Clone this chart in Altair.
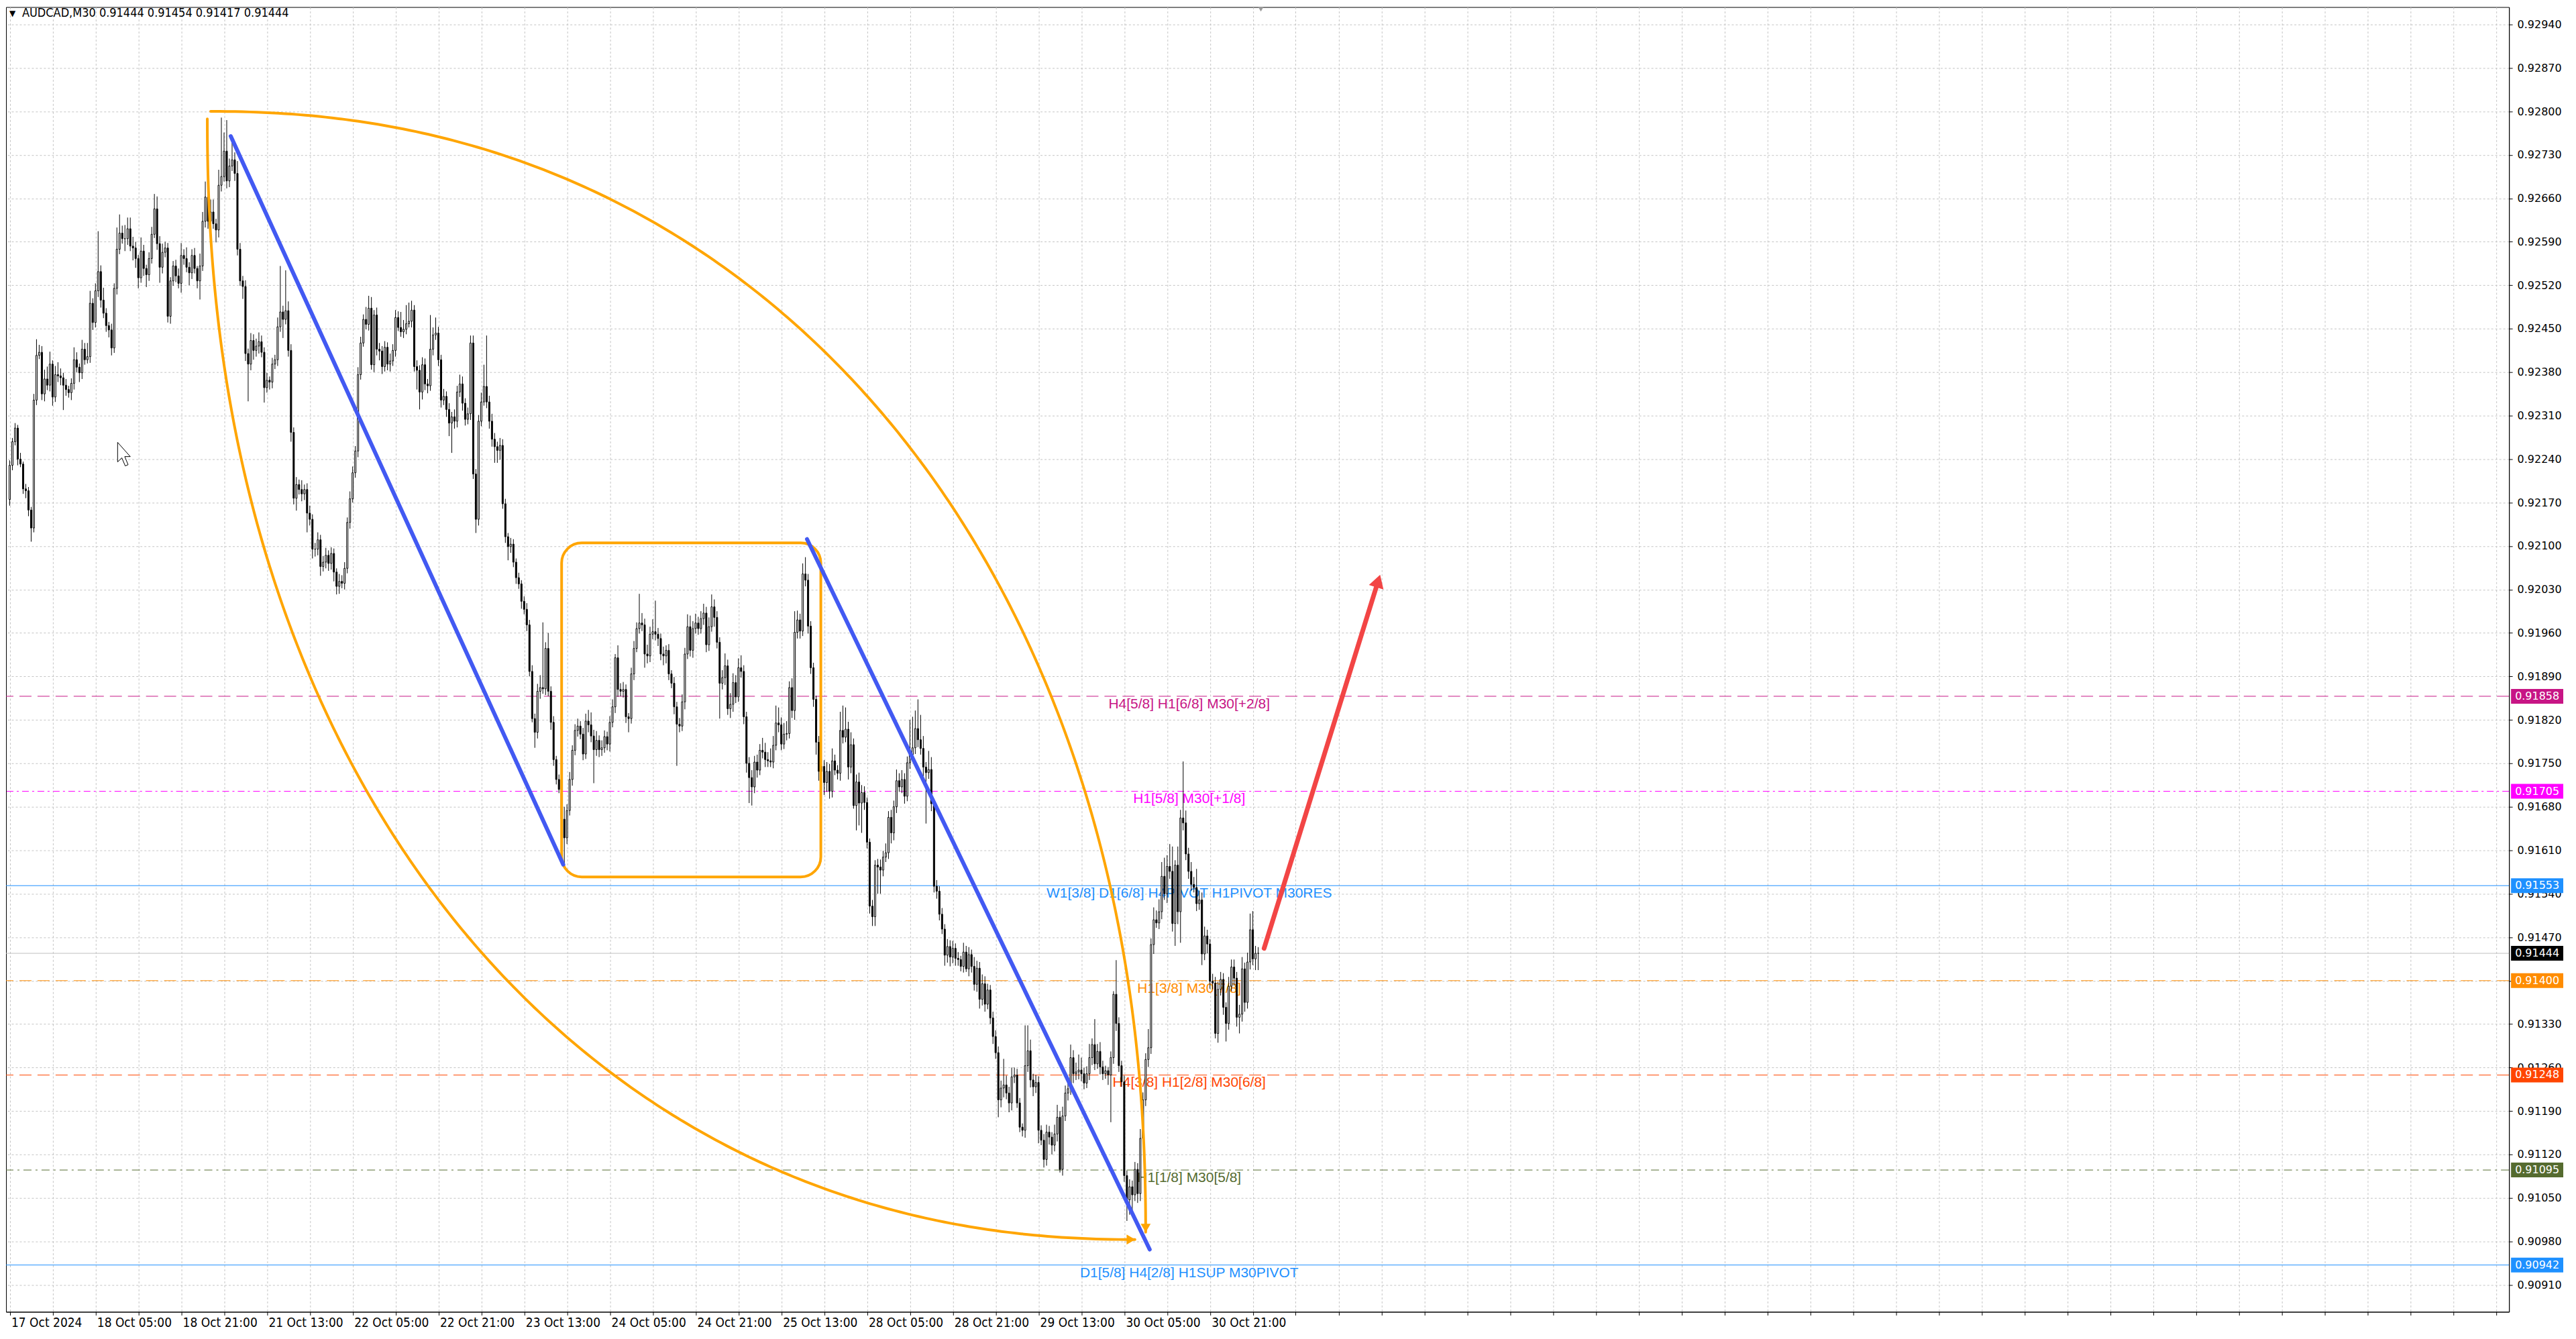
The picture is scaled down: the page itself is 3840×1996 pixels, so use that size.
import json
import numpy as np
import pandas as pd
import altair as alt

# ---------------- data ----------------
SYMBOL = "AUDCAD"
TIMEFRAME = "M30"
BASE = 0.90000          # prices below are in points (0.00001) above BASE
POINT = 0.00001
FIRST_OPEN = 2175

close_pts = [
    2230, 2268, 2290, 2240, 2232, 2192, 2189, 2158, 2129, 2335, 2407, 2412, 2345, 2369, 2359, 2393, 2340, 2376, 2374, 2371,
    2359, 2352, 2347, 2362, 2400, 2388, 2379, 2417, 2400, 2405, 2491, 2460, 2511, 2542, 2496, 2475, 2455, 2448, 2419, 2515,
    2578, 2604, 2595, 2595, 2611, 2583, 2580, 2563, 2532, 2575, 2547, 2537, 2563, 2602, 2643, 2587, 2549, 2573, 2580, 2470,
    2527, 2551, 2535, 2523, 2568, 2563, 2549, 2540, 2568, 2547, 2527, 2551, 2623, 2662, 2623, 2638, 2619, 2609, 2681, 2695,
    2736, 2688, 2712, 2722, 2700, 2578, 2527, 2518, 2410, 2393, 2431, 2415, 2422, 2429, 2412, 2355, 2367, 2364, 2393, 2400,
    2453, 2477, 2465, 2479, 2415, 2283, 2177, 2199, 2191, 2184, 2191, 2153, 2143, 2095, 2095, 2110, 2067, 2074, 2085, 2072,
    2088, 2058, 2035, 2043, 2040, 2064, 2138, 2176, 2218, 2253, 2376, 2427, 2465, 2457, 2483, 2392, 2472, 2417, 2414, 2389,
    2420, 2393, 2398, 2415, 2468, 2452, 2445, 2449, 2458, 2462, 2480, 2389, 2383, 2348, 2392, 2361, 2358, 2417, 2440, 2443,
    2400, 2335, 2341, 2320, 2298, 2308, 2301, 2348, 2361, 2330, 2304, 2313, 2427, 2216, 2143, 2301, 2332, 2357, 2332, 2301,
    2272, 2260, 2254, 2262, 2168, 2115, 2099, 2103, 2074, 2049, 2039, 2011, 1998, 1973, 1898, 1822, 1800, 1866, 1872, 1870,
    1935, 1866, 1816, 1756, 1724, 1708, 1660, 1630, 1674, 1724, 1771, 1803, 1810, 1797, 1765, 1818, 1812, 1794, 1772, 1787,
    1772, 1775, 1793, 1781, 1816, 1841, 1920, 1869, 1866, 1869, 1825, 1822, 1894, 1935, 1967, 1976, 1973, 1926, 1923, 1958,
    1962, 1958, 1951, 1926, 1923, 1932, 1894, 1879, 1841, 1813, 1810, 1849, 1926, 1970, 1932, 1967, 1976, 1967, 1983, 1992,
    1941, 1970, 2002, 1985, 1945, 1879, 1888, 1907, 1838, 1845, 1880, 1857, 1904, 1898, 1825, 1750, 1727, 1712, 1752, 1739,
    1771, 1768, 1756, 1754, 1752, 1779, 1815, 1812, 1781, 1797, 1798, 1872, 1835, 1961, 1981, 1963, 2055, 2045, 1971, 1904,
    1853, 1784, 1737, 1745, 1719, 1737, 1705, 1754, 1739, 1734, 1803, 1792, 1805, 1744, 1780, 1682, 1720, 1686, 1703, 1687,
    1623, 1520, 1503, 1586, 1583, 1578, 1599, 1606, 1663, 1638, 1680, 1722, 1712, 1724, 1697, 1751, 1764, 1775, 1806, 1788,
    1774, 1744, 1735, 1740, 1685, 1552, 1544, 1507, 1483, 1441, 1455, 1438, 1452, 1436, 1434, 1423, 1446, 1419, 1442, 1423,
    1394, 1420, 1370, 1395, 1362, 1385, 1340, 1310, 1284, 1208, 1227, 1232, 1219, 1203, 1245, 1248, 1203, 1164, 1159, 1263,
    1287, 1240, 1229, 1236, 1159, 1143, 1112, 1156, 1148, 1135, 1153, 1180, 1096, 1182, 1219, 1226, 1276, 1250, 1253, 1256,
    1250, 1235, 1250, 1276, 1297, 1266, 1286, 1261, 1250, 1255, 1248, 1276, 1378, 1331, 1263, 1237, 1086, 1047, 1068, 1055,
    1096, 1057, 1146, 1208, 1273, 1292, 1458, 1498, 1493, 1511, 1568, 1540, 1584, 1576, 1492, 1586, 1511, 1662, 1654, 1604,
    1576, 1555, 1550, 1524, 1530, 1443, 1472, 1459, 1399, 1396, 1315, 1386, 1402, 1357, 1331, 1391, 1422, 1404, 1341, 1346,
    1419, 1365, 1430, 1482, 1435, 1444, 1444,
]

upper_wick = [
    8, 6, 8, 5, 10, 4, 8, 6, 5, 10, 26, 12, 10, 15, 20, 20, 6, 14, 20, 12,
    8, 10, 6, 8, 20, 12, 6, 15, 10, 22, 20, 8, 12, 65, 10, 20, 8, 6, 10, 8,
    35, 30, 12, 22, 18, 18, 15, 10, 6, 22, 10, 6, 10, 12, 24, 20, 12, 14, 10, 8,
    6, 8, 10, 12, 20, 10, 18, 8, 10, 12, 4, 20, 15, 25, 12, 20, 20, 8, 25, 95,
    30, 50, 12, 28, 12, 20, 10, 8, 10, 8, 12, 10, 12, 15, 10, 8, 12, 6, 10, 8,
    15, 74, 10, 65, 15, 10, 8, 12, 8, 15, 8, 10, 12, 8, 10, 12, 8, 10, 12, 8,
    10, 8, 6, 12, 10, 10, 8, 12, 10, 8, 12, 10, 8, 20, 20, 18, 8, 12, 10, 8,
    10, 8, 12, 10, 12, 10, 25, 15, 30, 30, 15, 8, 10, 8, 12, 10, 8, 55, 12, 25,
    10, 8, 12, 8, 10, 8, 12, 10, 15, 12, 8, 10, 12, 12, 8, 10, 15, 35, 82, 10,
    12, 10, 8, 12, 10, 8, 6, 10, 8, 6, 8, 6, 8, 10, 8, 10, 8, 12, 20, 105,
    10, 25, 8, 10, 6, 8, 10, 20, 10, 12, 8, 10, 12, 8, 10, 12, 18, 20, 10, 15,
    8, 12, 10, 8, 10, 12, 6, 20, 10, 12, 8, 6, 10, 12, 10, 47, 16, 10, 15, 12,
    20, 50, 10, 8, 12, 8, 10, 6, 10, 8, 10, 12, 10, 20, 18, 12, 15, 10, 12, 15,
    10, 15, 20, 12, 10, 8, 12, 20, 10, 18, 15, 12, 15, 20, 10, 8, 10, 12, 10, 12,
    10, 20, 15, 12, 20, 15, 28, 25, 12, 18, 20, 10, 15, 34, 15, 10, 17, 27, 10, 8,
    8, 6, 10, 12, 10, 15, 12, 20, 10, 8, 30, 40, 35, 12, 20, 10, 12, 15, 12, 10,
    8, 6, 10, 8, 10, 12, 10, 15, 10, 12, 10, 18, 12, 15, 10, 10, 56, 50, 29, 47,
    40, 20, 8, 30, 20, 8, 10, 8, 10, 8, 12, 10, 12, 8, 10, 6, 15, 10, 12, 8,
    15, 12, 10, 15, 12, 10, 8, 10, 10, 10, 12, 42, 15, 10, 15, 12, 10, 8, 6, 65,
    41, 18, 10, 12, 10, 8, 10, 12, 10, 8, 15, 20, 10, 15, 12, 10, 21, 12, 15, 25,
    20, 10, 12, 22, 10, 41, 12, 15, 10, 8, 6, 10, 5, 55, 10, 8, 10, 8, 12, 10,
    12, 10, 15, 12, 10, 30, 10, 20, 15, 20, 23, 30, 18, 36, 40, 8, 30, 13, 91, 20,
    10, 15, 12, 30, 15, 12, 15, 10, 8, 12, 10, 12, 12, 10, 8, 15, 12, 12, 10, 15,
    19, 10, 15, 26, 30, 12, 10,
]

lower_wick = [
    10, 8, 6, 10, 5, 8, 12, 10, 22, 7, 8, 6, 10, 12, 8, 10, 14, 8, 10, 12,
    40, 10, 8, 12, 10, 8, 15, 10, 8, 6, 10, 12, 8, 10, 12, 8, 10, 12, 12, 8,
    10, 8, 8, 20, 10, 8, 20, 15, 17, 8, 12, 20, 10, 8, 6, 10, 25, 10, 8, 10,
    12, 8, 10, 8, 15, 10, 8, 20, 10, 8, 12, 30, 8, 10, 12, 10, 8, 20, 12, 10,
    8, 12, 10, 8, 12, 10, 8, 20, 12, 60, 10, 15, 10, 12, 8, 24, 8, 12, 10, 8,
    10, 8, 30, 8, 10, 15, 10, 20, 8, 12, 10, 31, 10, 15, 12, 10, 15, 8, 10, 12,
    10, 15, 13, 12, 8, 10, 8, 10, 6, 8, 10, 8, 6, 8, 10, 8, 12, 10, 15, 12,
    8, 10, 12, 8, 10, 6, 8, 10, 8, 6, 10, 8, 31, 28, 12, 10, 12, 8, 10, 8,
    10, 12, 8, 12, 21, 48, 12, 10, 8, 12, 10, 8, 10, 8, 22, 10, 8, 6, 10, 12,
    12, 26, 20, 15, 8, 10, 22, 10, 8, 10, 8, 12, 8, 10, 8, 6, 25, 10, 12, 8,
    10, 8, 12, 10, 8, 6, 12, 44, 10, 8, 10, 8, 10, 8, 10, 8, 12, 10, 54, 10,
    12, 10, 8, 10, 12, 8, 10, 12, 8, 10, 10, 22, 8, 10, 6, 8, 10, 22, 12, 10,
    8, 10, 12, 10, 15, 12, 10, 8, 12, 67, 10, 8, 12, 8, 10, 12, 8, 10, 8, 10,
    12, 10, 8, 15, 10, 57, 10, 12, 10, 15, 12, 10, 8, 10, 12, 15, 41, 30, 10, 12,
    8, 10, 12, 10, 8, 10, 8, 12, 10, 8, 10, 8, 12, 15, 10, 12, 8, 10, 12, 10,
    12, 20, 15, 30, 20, 15, 12, 10, 8, 10, 12, 10, 8, 20, 10, 5, 40, 36, 48, 12,
    10, 12, 15, 15, 43, 38, 10, 8, 10, 17, 12, 10, 8, 10, 12, 8, 10, 8, 10, 12,
    10, 15, 82, 10, 12, 10, 12, 10, 8, 17, 12, 15, 10, 12, 10, 8, 10, 5, 12, 10,
    10, 12, 15, 10, 12, 8, 10, 12, 10, 28, 12, 15, 10, 15, 12, 10, 8, 8, 10, 12,
    10, 12, 15, 10, 21, 8, 13, 10, 12, 15, 10, 12, 5, 10, 8, 12, 10, 15, 10, 12,
    12, 10, 8, 10, 12, 10, 8, 12, 10, 8, 16, 76, 10, 12, 10, 8, 10, 34, 24, 32,
    10, 15, 12, 8, 10, 12, 10, 15, 8, 10, 12, 10, 15, 12, 13, 36, 20, 50, 12, 10,
    12, 10, 8, 12, 10, 18, 10, 15, 12, 10, 8, 15, 10, 12, 29, 10, 8, 12, 15, 26,
    12, 15, 10, 12, 10, 18, 27,
]

date_labels = ["17 Oct 2024", "18 Oct 05:00", "18 Oct 21:00", "21 Oct 13:00", "22 Oct 05:00",
               "22 Oct 21:00", "23 Oct 13:00", "24 Oct 05:00", "24 Oct 21:00", "25 Oct 13:00",
               "28 Oct 05:00", "28 Oct 21:00", "29 Oct 13:00", "30 Oct 05:00", "30 Oct 21:00"]
LABEL_STEP = 32
GRID_STEP = 16

price_ticks = [0.90910, 0.90980, 0.91050, 0.91120, 0.91190, 0.91260, 0.91330, 0.91400, 0.91470, 0.91540,
               0.91610, 0.91680, 0.91750, 0.91820, 0.91890, 0.91960, 0.92030, 0.92100, 0.92170, 0.92240,
               0.92310, 0.92380, 0.92450, 0.92520, 0.92590, 0.92660, 0.92730, 0.92800, 0.92870, 0.92940]

level_prices = [0.91858, 0.91705, 0.91553, 0.91400, 0.91248, 0.91095, 0.90942]
level_texts = ["H4[5/8] H1[6/8] M30[+2/8]", "H1[5/8] M30[+1/8]",
               "W1[3/8] D1[6/8] H4PIVOT H1PIVOT M30RES", "H1[3/8] M30[7/8]",
               "H4[3/8] H1[2/8] M30[6/8]", "H1[1/8] M30[5/8]", "D1[5/8] H4[2/8] H1SUP M30PIVOT"]
level_colors = ["#C71585", "#FF00FF", "#1E90FF", "#FF8C00", "#FF4500", "#556B2F", "#1E90FF"]
level_dashes = [[18, 9], [10, 5, 3, 5], None, [18, 9], [18, 9], [12, 6, 3, 6], None]
LEVEL_LABEL_BAR = 440.25

# drawing anchors: (bar index, price)
blue_lines = [((82.5, 0.92760), (206.6, 0.91587)), ((297.6, 0.92111), (425.5, 0.90967))]
box_bars = (206.0, 302.75)
box_prices = (0.91567, 0.92105)
outer_arc = ((75.0, 0.92800), (424.0, 0.90995))
inner_arc = ((73.75, 0.92788), (420.0, 0.90983))
red_arrow = ((468.2, 0.91452), (511.6, 0.92055))
cursor_at = (42.75, 0.922475)
shift_marker_bar = 467

# ---------------- geometry ----------------
W, H = 3737, 1948
PX_PER_BAR = 4.0
X_DOM = [-1.375, -1.375 + W / PX_PER_BAR]
Y_TOP = 0.92968
PX_PER_PRICE = 92700.0
Y_BOT = Y_TOP - H / PX_PER_PRICE
xs = alt.Scale(domain=X_DOM, nice=False, zero=False)
ys = alt.Scale(domain=[Y_BOT, Y_TOP], nice=False, zero=False)

NARROW = "Liberation Sans Narrow, DejaVu Sans Condensed, Arial Narrow, Liberation Sans"
PRICE_FONT = "DejaVu Sans, Verdana"
LABEL_FONT = "Liberation Sans, Arial"

# ---------------- candles ----------------
n = min(len(close_pts), len(upper_wick), len(lower_wick))
opens = [FIRST_OPEN] + close_pts[:n - 1]
rows = []
for i in range(n):
    o, c = opens[i], close_pts[i]
    top, bot = max(o, c), min(o, c)
    rows.append(dict(bar=i, open=BASE + o * POINT, close=BASE + c * POINT,
                     high=BASE + (top + upper_wick[i]) * POINT,
                     low=BASE + (bot - lower_wick[i]) * POINT, up=bool(c >= o)))
df = pd.DataFrame(rows)
last = df.iloc[-1]

label_expr = ("(datum.value % " + str(LABEL_STEP) + " == 0 && datum.value / " + str(LABEL_STEP) + " < "
              + str(len(date_labels)) + ") ? " + json.dumps(date_labels) + "[datum.value / " + str(LABEL_STEP) + "] : ''")
grid_bars = list(range(0, int(X_DOM[1]) + 1, GRID_STEP))

x_axis = alt.Axis(values=grid_bars, labelExpr=label_expr, grid=True, gridDash=[3, 3],
                  gridColor="#c4c4c4", gridWidth=1, tickColor="black",
                  domainColor="black", labelAlign="left", labelBaseline="top", labelFont=NARROW,
                  labelFontSize=19, labelColor="black", labelPadding=2, labelOffset=2, tickSize=5,
                  labelOverlap=False, labelFlush=False, title=None, zindex=0)
y_axis = alt.Axis(orient="right", values=price_ticks, format=".5f", grid=True, gridDash=[3, 3],
                  gridColor="#c4c4c4", gridWidth=1, domainColor="black", tickColor="black", tickSize=5,
                  labelFont=PRICE_FONT, labelFontSize=16, labelColor="black", labelPadding=7,
                  labelOverlap=False, labelFlush=False, title=None, zindex=0)

XE = lambda f: alt.X(f, scale=xs, axis=x_axis)
YE = lambda f: alt.Y(f, scale=ys, axis=y_axis)

layers = []

# level lines
for p, col, dash in zip(level_prices, level_colors, level_dashes):
    kw = dict(color=col, strokeWidth=1)
    if dash:
        kw["strokeDash"] = dash
    layers.append(alt.Chart(pd.DataFrame({"p": [p]})).mark_rule(**kw).encode(y=YE("p:Q")))
# current price line
layers.append(alt.Chart(pd.DataFrame({"p": [last["close"]]})).mark_rule(color="#C0C0C0", strokeWidth=1).encode(
    y=YE("p:Q")))

# level texts
lev_df = pd.DataFrame({"p": level_prices, "t": level_texts, "c": level_colors, "b": [LEVEL_LABEL_BAR] * len(level_prices)})
layers.append(alt.Chart(lev_df).mark_text(font=LABEL_FONT, fontSize=21, align="center", baseline="middle", dy=12).encode(
    x=XE("b:Q"), y=YE("p:Q"), text="t:N", color=alt.Color("c:N", scale=None)))

# candles
layers.append(alt.Chart(df).mark_rule(color="black", strokeWidth=1).encode(
    x=XE("bar:Q"), y=YE("low:Q"), y2="high:Q"))
layers.append(alt.Chart(df).transform_calculate(b0="datum.bar - 0.25", b1="datum.bar + 0.25").mark_rect(
    stroke="black", strokeWidth=1).encode(
    x=XE("b0:Q"), x2="b1:Q", y=YE("open:Q"), y2="close:Q",
    fill=alt.condition("datum.up", alt.value("white"), alt.value("black"))))

# ---------------- drawings ----------------
ORANGE = "#FFA500"
NEXP = 2.15
t = np.linspace(0, np.pi / 2, 240)
(sx, sp), (ex, ep) = outer_arc
outer_df = pd.DataFrame({"x": sx + (ex - sx) * np.sin(t) ** (2 / NEXP),
                         "p": ep + (sp - ep) * np.cos(t) ** (2 / NEXP), "o": np.arange(len(t))})
(ix, ip), (jx, jp) = inner_arc
inner_df = pd.DataFrame({"x": jx - (jx - ix) * np.cos(t) ** (2 / NEXP),
                         "p": ip - (ip - jp) * np.sin(t) ** (2 / NEXP), "o": np.arange(len(t))})
for adf in (outer_df, inner_df):
    layers.append(alt.Chart(adf).mark_line(color=ORANGE, strokeWidth=4, strokeCap="round").encode(
        x=XE("x:Q"), y=YE("p:Q"), order="o:Q"))
heads = pd.DataFrame({"x": [ex, jx - 6 / PX_PER_BAR], "p": [ep + 6 / PX_PER_PRICE, jp],
                      "s": ["triangle-down", "triangle-right"]})
layers.append(alt.Chart(heads).mark_point(filled=True, color=ORANGE, size=220, opacity=1).encode(
    x=XE("x:Q"), y=YE("p:Q"), shape=alt.Shape("s:N", scale=None)))

box_df = pd.DataFrame({"b0": [box_bars[0]], "b1": [box_bars[1]], "p0": [box_prices[0]], "p1": [box_prices[1]]})
layers.append(alt.Chart(box_df).mark_rect(fillOpacity=0, stroke=ORANGE, strokeWidth=4, cornerRadius=30).encode(
    x=XE("b0:Q"), x2="b1:Q", y=YE("p0:Q"), y2="p1:Q"))

bl_rows = []
for k, (a, b) in enumerate(blue_lines):
    bl_rows += [dict(seg=k, o=0, x=a[0], p=a[1]), dict(seg=k, o=1, x=b[0], p=b[1])]
layers.append(alt.Chart(pd.DataFrame(bl_rows)).mark_line(color="#4259F2", strokeWidth=6, strokeCap="round").encode(
    x=XE("x:Q"), y=YE("p:Q"), detail="seg:N", order="o:Q"))

(r0x, r0p), (r1x, r1p) = red_arrow
dxp, dyp = (r1x - r0x) * PX_PER_BAR, (r1p - r0p) * PX_PER_PRICE
L = float(np.hypot(dxp, dyp))
ang = float(np.degrees(np.arctan2(dxp, dyp)))
back = 11.0
hx, hp = r1x - dxp / L * back / PX_PER_BAR, r1p - dyp / L * back / PX_PER_PRICE
RED = "#F24545"
layers.append(alt.Chart(pd.DataFrame({"x": [r0x, hx], "p": [r0p, hp], "o": [0, 1]})).mark_line(
    color=RED, strokeWidth=7, strokeCap="round").encode(x=XE("x:Q"), y=YE("p:Q"), order="o:Q"))
layers.append(alt.Chart(pd.DataFrame({"x": [hx], "p": [hp]})).mark_point(
    shape="triangle-up", filled=True, color=RED, size=520, angle=ang, opacity=1).encode(
    x=XE("x:Q"), y=YE("p:Q")))

# mouse cursor
CURSOR = "M-0.55,-1 L-0.55,0.62 L-0.2,0.28 L0.08,0.95 L0.32,0.85 L0.04,0.18 L0.5,0.18 Z"
layers.append(alt.Chart(pd.DataFrame({"x": [cursor_at[0]], "p": [cursor_at[1]]})).mark_point(
    shape=CURSOR, filled=True, fill="white", stroke="black", strokeWidth=1, size=1300, opacity=1).encode(
    x=XE("x:Q"), y=YE("p:Q")))

# chart-shift marker at top
layers.append(alt.Chart(pd.DataFrame({"x": [shift_marker_bar]})).mark_point(
    shape="triangle-down", filled=True, color="#9a9a9a", size=70, opacity=1).encode(
    x=XE("x:Q"), y=alt.value(3)))

# ---------------- price tags ----------------
tag_prices = level_prices[:3] + [float(last["close"])] + level_prices[3:]
tag_colors = level_colors[:3] + ["#000000"] + level_colors[3:]
tag_df = pd.DataFrame({"p": tag_prices, "c": tag_colors, "t": [f"{v:.5f}" for v in tag_prices]})
layers.append(alt.Chart(tag_df).mark_rule(strokeWidth=22, strokeCap="butt").encode(
    x=alt.value(W + 3), x2=alt.value(W + 81), y=YE("p:Q"), color=alt.Color("c:N", scale=None)))
layers.append(alt.Chart(tag_df).mark_text(font=PRICE_FONT, fontSize=16, color="white", align="left",
                                          baseline="middle").encode(
    x=alt.value(W + 9), y=YE("p:Q"), text="t:N"))

# ---------------- header ----------------
header = f"{SYMBOL},{TIMEFRAME}  {last['open']:.5f} {last['high']:.5f} {last['low']:.5f} {last['close']:.5f}"
layers.append(alt.Chart(pd.DataFrame({"t": ["\u25BC"]})).mark_text(
    font="DejaVu Sans", fontSize=12, color="black", align="left", baseline="middle").encode(
    x=alt.value(5), y=alt.value(9), text="t:N"))
layers.append(alt.Chart(pd.DataFrame({"t": [header]})).mark_text(
    font=NARROW, fontSize=18, color="black", align="left", baseline="middle").encode(
    x=alt.value(24), y=alt.value(9), text="t:N"))

chart = alt.layer(*layers).properties(
    width=W, height=H, padding=0, background="white"
).configure_view(stroke="black", strokeWidth=1)

chart.save("out.html", embed_options={"renderer": "svg", "actions": False})
